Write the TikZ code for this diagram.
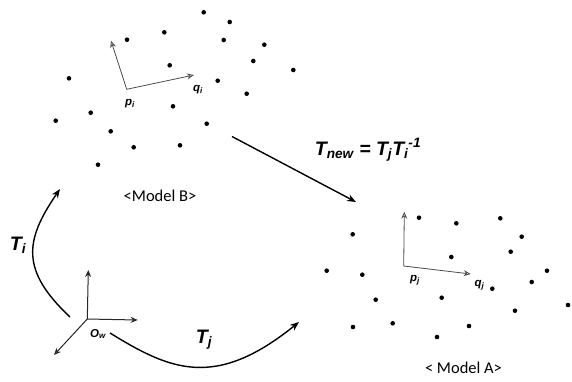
\documentclass[tikz,border=0pt]{standalone}
\usepackage{fontspec}
\setmainfont{Carlito}
\newfontfamily\lblfont{Liberation Sans}
\usetikzlibrary{arrows.meta}
\tikzset{
  pt/.style={circle,fill=black,inner sep=0pt,minimum size=4.6pt},
  frame/.style={draw=black!70,line width=0.8pt,-{Stealth[open,length=7pt,width=6pt]}},
  wframe/.style={draw=black!85,line width=1pt,-{Stealth[open,length=7pt,width=6pt]}},
  bigarrow/.style={draw=black,line width=1.4pt,-{Stealth[length=9pt,width=7pt]}},
  tlabel/.style={font=\lblfont\bfseries\itshape\fontsize{19.5}{19.5}\selectfont},
  plabel/.style={font=\lblfont\bfseries\itshape\fontsize{11.5}{11.5}\selectfont},
  mlabel/.style={font=\fontsize{16.5}{16.5}\selectfont}
}
\begin{document}
\begin{tikzpicture}[x=1pt,y=-1pt]
\useasboundingbox (0,0) rectangle (572,381);
% Model B points
\foreach \x/\y [count=\n] in {203.7/12.3,229.7/22,127/39.7,164.3/32.3,223.7/40,264.3/44.7,253.3/61,293.3/70,169.7/65.3,217.7/80.7,246.7/93.7,69/78.3,90.7/112.7,55.7/120.7,173/106.3,206.7/123.7,110.7/131.3,133.7/147.3,180/145.3,98/164.7}
  \node[pt] (b\n) at (\x,\y) {};
% Model A points
\foreach \x/\y [count=\n] in {419/217.7,456.3/223.3,500.3/218.3,521.7/236.7,510.7/251.7,352.7/234.3,451.3/257,326.7/270.7,362.3/274.7,547/270.7,531.7/282,492.3/288.7,375.7/299.7,441.7/297.7,568/305,515/310.7,353/327,392.7/323.3,469/326,437/337}
  \node[pt] (a\n) at (\x,\y) {};
% frame i
\coordinate (pi) at (126.7,89.3);
\coordinate (piu) at (111,40.7);
\coordinate (qi) at (194,75);
\draw[frame] (pi) -- (piu);
\draw[frame] (pi) -- (qi);
\node[plabel] (lpi) at (130,104) {p\textsubscript{i}};
\node[plabel] (lqi) at (198,89.5) {q\textsubscript{i}};
% frame j
\coordinate (pj) at (403.7,266);
\coordinate (pju) at (404.3,211.7);
\coordinate (qj) at (470.7,274);
\draw[frame] (pj) -- (pju);
\draw[frame] (pj) -- (qj);
\node[plabel] (lpj) at (415,280.5) {p\textsubscript{j}};
\node[plabel] (lqj) at (479.5,285.5) {q\textsubscript{j}};
% world frame
\coordinate (ow) at (87.3,319);
\coordinate (owu) at (88.3,270);
\coordinate (owr) at (137.7,320);
\coordinate (owd) at (54,355);
\draw[wframe] (ow) -- (owu);
\draw[wframe] (ow) -- (owr);
\draw[wframe] (ow) -- (owd);
\node[plabel] (low) at (98,334) {O\textsubscript{w}};
% model labels
\node[mlabel] (mb) at (160,196) {<Model B>};
\node[mlabel] (ma) at (463.5,368) {< Model A>};
% transforms
\coordinate (tis) at (70,317);
\coordinate (tie) at (60,189);
\draw[bigarrow] (tis) .. controls (20,270) and (25,240) .. (tie);
\node[tlabel] (lti) at (18,245) {T\textsubscript{i}};
\coordinate (tjs) at (110,333);
\coordinate (tje) at (299,322);
\draw[bigarrow] (tjs) .. controls (170,370) and (215,390) .. (tje);
\node[tlabel] (ltj) at (204,340) {T\textsubscript{j}};
\coordinate (tns) at (232,136.5);
\coordinate (tne) at (356,202);
\draw[bigarrow] (tns) -- (tne);
\node[tlabel] (ltn) at (368,150) {T\textsubscript{new} = T\textsubscript{j}T\textsubscript{i}\textsuperscript{-1}};
\end{tikzpicture}
\end{document}
